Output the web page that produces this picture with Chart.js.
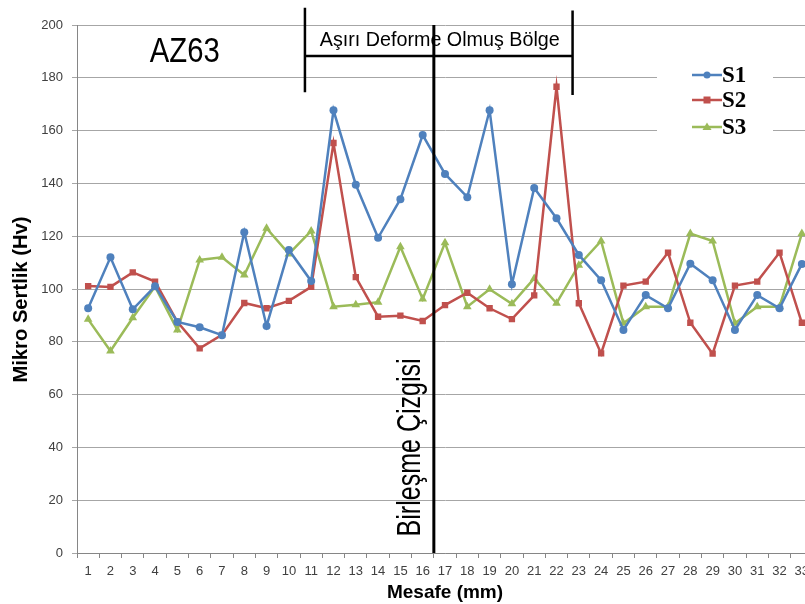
<!DOCTYPE html>
<html>
<head>
<meta charset="utf-8">
<script src="https://cdn.jsdelivr.net/npm/chart.js@4/dist/chart.umd.min.js"></script>
<style>
  html, body { margin: 0; padding: 0; overflow: hidden; background: #fff; }
  #wrap { width: 830px; height: 604px; position: relative; }
</style>
</head>
<body>
<div id="wrap"><canvas id="chart"></canvas></div>
<script>
const categories = ['1','2','3','4','5','6','7','8','9','10','11','12','13','14','15','16','17','18','19','20','21','22','23','24','25','26','27','28','29','30','31','32','33']

const s1 = [92.7, 112, 92.3, 101, 87.5, 85.5, 82.5, 121.5, 86, 114.8, 103, 167.7, 139.5, 119.4, 134, 158.3,
  143.6, 134.8, 167.7, 101.8, 138.3, 126.8, 112.9, 103.3, 84.5, 97.7, 92.7, 109.6, 103.3, 84.5, 97.7, 92.7, 109.5]
const s2 = [101.1, 100.8, 106.3, 102.8, 87.6, 77.5, 82.6, 94.7, 92.7, 95.5, 100.8, 155.3, 104.5, 89.5, 89.9, 87.9,
  93.9, 98.6, 92.7, 88.6, 97.6, 176.6, 94.6, 75.6, 101.3, 102.8, 113.8, 87.2, 75.5, 101.3, 102.8, 113.8, 87.2]
const s3 = [88.5, 76.5, 89.1, 100.9, 84.5, 111, 112, 105.3, 123, 113.3, 122, 93.3, 94, 95, 116, 96.2,
  117.5, 93.3, 99.9, 94.4, 104, 94.6, 109, 118.2, 87, 93.3, 93.3, 121, 118.2, 87, 93.3, 93.3, 121]

const seriesNames = ['S1', 'S2', 'S3']
const yTicks = [0, 20, 40, 60, 80, 100, 120, 140, 160, 180, 200]

// annotation positions in data units (category index, value)
const weldLineIndex = 15.5
const zoneStart = 9.72
const zoneEnd = 21.72

function drawFitted(ctx, text, x, y, font, width, rotate) {
  ctx.save()
  ctx.font = font
  const w = ctx.measureText(text).width
  ctx.translate(x, y)
  if (rotate) ctx.rotate(-Math.PI / 2)
  ctx.scale(width / w, 1)
  ctx.textAlign = 'center'
  ctx.textBaseline = 'middle'
  ctx.fillStyle = '#000'
  ctx.fillText(text, 0, 0)
  ctx.restore()
}

const annotations = {
  id: 'annotations',
  afterDatasetsDraw(chart) {
    const { ctx, scales: { x, y } } = chart
    ctx.save()
    ctx.strokeStyle = '#000'
    ctx.lineWidth = 3
    ctx.lineCap = 'butt'

    // birleşme line
    const wx = x.getPixelForValue(weldLineIndex)
    ctx.beginPath()
    ctx.moveTo(wx, y.getPixelForValue(200))
    ctx.lineTo(wx, y.getPixelForValue(0))
    ctx.stroke()

    // deformed zone bracket
    const x1 = x.getPixelForValue(zoneStart)
    const x2 = x.getPixelForValue(zoneEnd)
    ctx.lineWidth = 2.5
    ctx.beginPath()
    ctx.moveTo(x1, y.getPixelForValue(206.5))
    ctx.lineTo(x1, y.getPixelForValue(174.5))
    ctx.moveTo(x2, y.getPixelForValue(205.5))
    ctx.lineTo(x2, y.getPixelForValue(173.5))
    ctx.moveTo(x1, y.getPixelForValue(188.3))
    ctx.lineTo(x2, y.getPixelForValue(188.3))
    ctx.stroke()
    ctx.restore()

    drawFitted(ctx, 'Aşırı Deforme Olmuş Bölge', (x1 + x2) / 2 + 1, y.getPixelForValue(194.3),
      '20px "Liberation Sans", Arial, sans-serif', 240, false)
    drawFitted(ctx, 'AZ63', x.getPixelForValue(4.33), y.getPixelForValue(189.5),
      '35px "Liberation Sans", Arial, sans-serif', 70, false)
    drawFitted(ctx, 'Birleşme Çizgisi', wx - 23, y.getPixelForValue(40),
      '33px "Liberation Sans", Arial, sans-serif', 178, true)

    // y axis title
    drawFitted(ctx, 'Mikro Sertlik (Hv)', 21.5, y.getPixelForValue(96),
      'bold 20px "Liberation Sans", Arial, sans-serif', 166, true)

    // legend
    ctx.save()
    ctx.fillStyle = '#fff'
    ctx.fillRect(657, 58, 116, 84)
    const rows = [75, 100, 127]
    chart.data.datasets.forEach((ds, i) => {
      const ry = rows[i]
      ctx.strokeStyle = ds.borderColor
      ctx.lineWidth = 2.5
      ctx.beginPath()
      ctx.moveTo(692, ry)
      ctx.lineTo(722, ry)
      ctx.stroke()
      ctx.fillStyle = ds.backgroundColor
      ctx.beginPath()
      if (ds.pointStyle === 'circle') {
        ctx.arc(707, ry, 3.5, 0, Math.PI * 2)
      } else if (ds.pointStyle === 'rect') {
        ctx.rect(703.5, ry - 3.5, 7, 7)
      } else {
        ctx.moveTo(707, ry - 4.5)
        ctx.lineTo(711.5, ry + 3)
        ctx.lineTo(702.5, ry + 3)
        ctx.closePath()
      }
      ctx.fill()
      ctx.fillStyle = '#000'
      ctx.font = 'bold 23px "Liberation Serif", "Times New Roman", serif'
      ctx.textAlign = 'left'
      ctx.textBaseline = 'middle'
      ctx.fillText(ds.label, 722, ry + 1)
    })
    ctx.restore()
  }
}

const colors = ['#4F81BD', '#C0504D', '#9BBB59']
const styles = ['circle', 'rect', 'triangle']
const radii = [4, 4.5, 5]

new Chart(document.getElementById('chart'), {
  type: 'line',
  data: {
    labels: categories,
    datasets: [s1, s2, s3].map((values, i) => ({
      label: seriesNames[i],
      data: values,
      borderColor: colors[i],
      backgroundColor: colors[i],
      borderWidth: 2.5,
      pointStyle: styles[i],
      pointRadius: radii[i],
      pointBorderWidth: 0,
      tension: 0,
    })),
  },
  options: {
    responsive: true,
    maintainAspectRatio: false,
    animation: false,
    layout: { padding: { top: 25, right: 17, bottom: 0, left: 0 } },
    plugins: {
      legend: { display: false },
      tooltip: { enabled: false },
    },
    scales: {
      x: {
        offset: true,
        afterFit(scale) { scale.height = 51 },
        grid: { offset: true, drawOnChartArea: false, tickLength: 5, color: '#868686' },
        border: { color: '#868686' },
        ticks: {
          autoSkip: false, maxRotation: 0, padding: 6,
          color: '#404040', font: { family: '"Liberation Sans", Arial, sans-serif', size: 13 },
        },
        title: {
          display: true, text: 'Mesafe (mm)', color: '#000',
          font: { family: '"Liberation Sans", Arial, sans-serif', size: 19, weight: 'bold' },
          padding: { top: 0, bottom: 0 },
        },
      },
      y: {
        min: 0,
        max: 200,
        afterFit(scale) { scale.width = 77 },
        afterBuildTicks(scale) { scale.ticks = yTicks.map(v => ({ value: v })) },
        grid: { color: '#a6a6a6', tickLength: 5 },
        border: { color: '#868686' },
        ticks: {
          padding: 9,
          color: '#404040', font: { family: '"Liberation Sans", Arial, sans-serif', size: 13 },
        },
      },
    },
  },
  plugins: [annotations],
})
</script>
</body>
</html>
